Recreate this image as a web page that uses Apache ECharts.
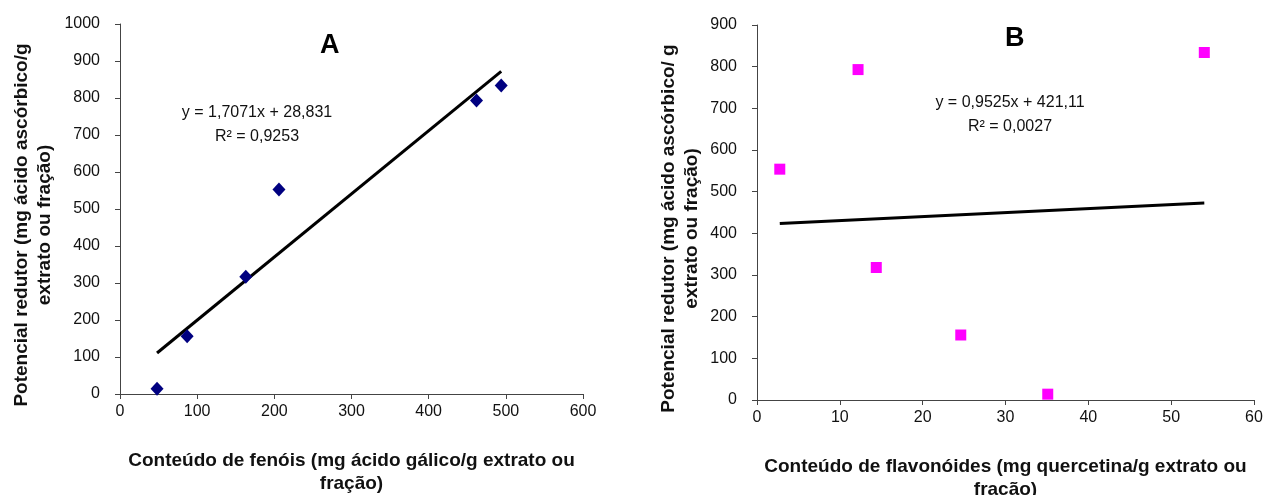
<!DOCTYPE html>
<html>
<head>
<meta charset="utf-8">
<script src="https://cdn.jsdelivr.net/npm/echarts@6/dist/echarts.min.js"></script>
<style>
  html, body { margin: 0; padding: 0; background: #fff; }
  #chart { width: 1265px; height: 495px; }
</style>
</head>
<body>
<div id="chart"></div>
<script>
// Panel A: phenolic content vs reducing power
const phenolsX = [48, 87, 163, 206, 462, 494];
const reducingA = [14, 156, 317, 553, 793, 834];
const trendA = [1.7071, 28.831];          // slope, intercept
const eqA = ['y = 1,7071x + 28,831', 'R² = 0,9253'];

// Panel B: flavonoid content vs reducing power
const flavX = [2.75, 12.2, 14.4, 24.6, 35.1, 54.0];
const reducingB = [554, 793, 318, 156, 14, 834];
const trendB = [0.9525, 421.11];
const eqB = ['y = 0,9525x + 421,11', 'R² = 0,0027'];

const yTitleA = 'Potencial redutor (mg ácido ascórbico/g\nextrato ou fração)';
const yTitleB = 'Potencial redutor (mg ácido ascórbico/ g\nextrato ou fração)';
const xTitleA = 'Conteúdo de fenóis (mg ácido gálico/g extrato ou\nfração)';
const xTitleB = 'Conteúdo de flavonóides (mg quercetina/g extrato ou\nfração)';

const NARROW = '"Liberation Sans Narrow", "Arial Narrow", "Liberation Sans", Arial, sans-serif';
const SANS = '"Liberation Sans", Arial, sans-serif';

function pairs(xs, ys) { return xs.map((x, i) => [x, ys[i]]); }
function trendLine(xs, coef) {
  const lo = Math.min(...xs), hi = Math.max(...xs);
  return [[lo, coef[0] * lo + coef[1]], [hi, coef[0] * hi + coef[1]]];
}

function valueAxis(extra, labelMargin, titleSize, titlePad) {
  return Object.assign({
    type: 'value',
    splitLine: { show: false },
    axisLine: { show: true, onZero: false, lineStyle: { color: '#444', width: 1 } },
    axisTick: { show: true, length: 5, lineStyle: { color: '#444' } },
    axisLabel: { color: '#111', fontFamily: NARROW, fontSize: 16, margin: labelMargin, formatter: v => String(v) },
    nameTextStyle: { color: '#111', fontFamily: SANS, fontWeight: 'bold', fontSize: titleSize, lineHeight: 23,
      align: 'center', padding: titlePad || 0 },
    nameLocation: 'middle'
  }, extra);
}

const chart = echarts.init(document.getElementById('chart'), null, { renderer: 'canvas' });
chart.setOption({
  animation: false,
  backgroundColor: '#fff',
  grid: [
    { left: 120, top: 24, width: 463, height: 370, outerBoundsMode: 'none', containLabel: false },
    { left: 757, top: 25, width: 497, height: 375, outerBoundsMode: 'none', containLabel: false }
  ],
  xAxis: [
    valueAxis({ gridIndex: 0, min: 0, max: 600, interval: 100, name: xTitleA, nameGap: 55 }, 10, 19),
    valueAxis({ gridIndex: 1, min: 0, max: 60, interval: 10, name: xTitleB, nameGap: 55 }, 10, 19)
  ],
  yAxis: [
    valueAxis({ gridIndex: 0, min: 0, max: 1000, interval: 100, name: yTitleA, nameGap: 64 }, 20, 19, [0, 32, 0, 0]),
    valueAxis({ gridIndex: 1, min: 0, max: 900, interval: 100, name: yTitleB, nameGap: 54 }, 20, 19, [0, 32, 0, 0])
  ],
  graphic: [
    { type: 'text', left: 320, top: 32, style: { text: 'A', font: 'bold 27px ' + SANS, fill: '#000' } },
    { type: 'text', left: 1005, top: 25, style: { text: 'B', font: 'bold 27px ' + SANS, fill: '#000' } },
    { type: 'text', x: 257, y: 101, style: { text: eqA.join('\n'), font: '16px ' + NARROW, fill: '#111', align: 'center', lineHeight: 24 } },
    { type: 'text', x: 1010, y: 91, style: { text: eqB.join('\n'), font: '16px ' + NARROW, fill: '#111', align: 'center', lineHeight: 24 } }
  ],
  series: [
    {
      type: 'line', xAxisIndex: 0, yAxisIndex: 0, data: trendLine(phenolsX, trendA),
      symbol: 'none', lineStyle: { color: '#000', width: 3 }, z: 2
    },
    {
      type: 'scatter', xAxisIndex: 0, yAxisIndex: 0, data: pairs(phenolsX, reducingA),
      symbol: 'diamond', symbolSize: [13, 14], itemStyle: { color: '#000080', opacity: 1 }, z: 3
    },
    {
      type: 'line', xAxisIndex: 1, yAxisIndex: 1, data: trendLine(flavX, trendB),
      symbol: 'none', lineStyle: { color: '#000', width: 3 }, z: 2
    },
    {
      type: 'scatter', xAxisIndex: 1, yAxisIndex: 1, data: pairs(flavX, reducingB),
      symbol: 'rect', symbolSize: 11, itemStyle: { color: '#FF00FF', opacity: 1 }, z: 3
    }
  ]
});
</script>
</body>
</html>
